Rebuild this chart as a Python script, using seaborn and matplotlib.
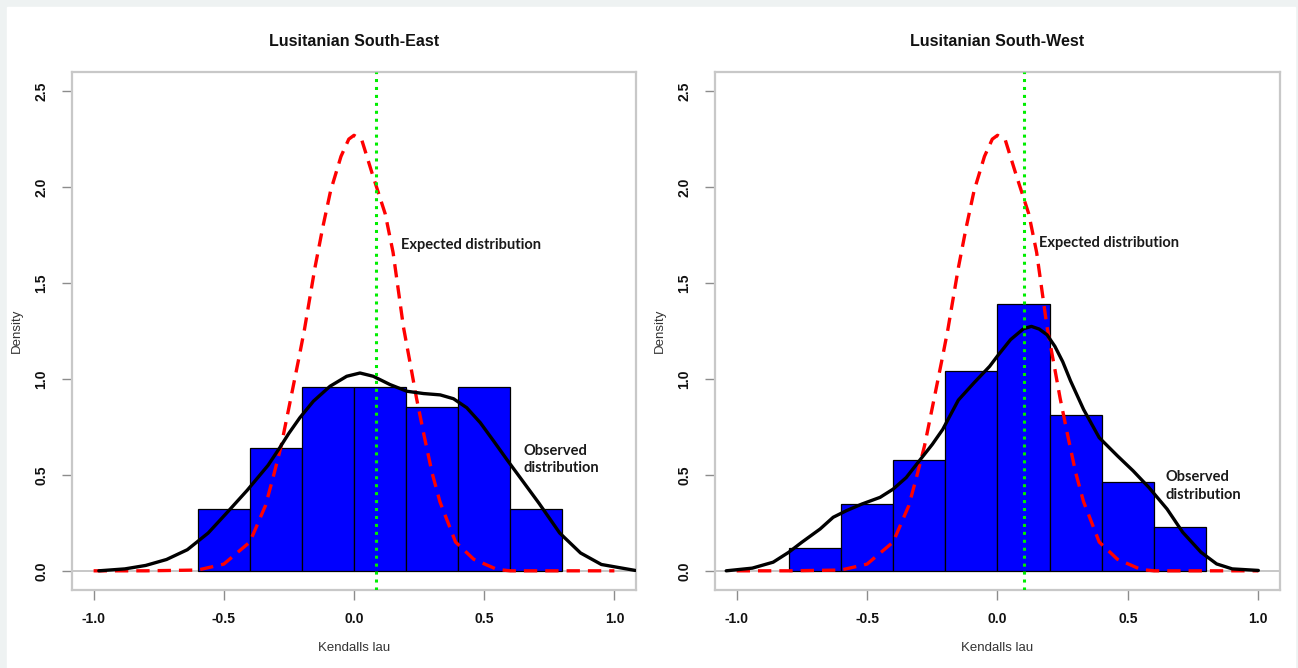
import numpy as np
import matplotlib
matplotlib.use("Agg")
import matplotlib.pyplot as plt
from matplotlib.patches import Rectangle
import seaborn as sns

# panel titles
titles = ["Lusitanian South-East", "Lusitanian South-West"]

# histogram bins and densities
edges_se = [-0.6, -0.4, -0.2, 0.0, 0.2, 0.4, 0.6, 0.8]
dens_se = [0.32, 0.64, 0.96, 0.96, 0.855, 0.96, 0.32]
edges_sw = [-0.8, -0.6, -0.4, -0.2, 0.0, 0.2, 0.4, 0.6, 0.8]
dens_sw = [0.12, 0.35, 0.58, 1.04, 1.39, 0.81, 0.465, 0.23]

# observed density curves (black)
obs_se_x = [-0.98, -0.88, -0.80, -0.72, -0.64, -0.56, -0.49, -0.41, -0.33, -0.285,
            -0.25, -0.208, -0.156, -0.092, -0.028, 0.023, 0.074, 0.138, 0.203, 0.267,
            0.331, 0.382, 0.433, 0.485, 0.536, 0.587, 0.638, 0.71, 0.79, 0.87,
            0.95, 1.08]
obs_se_y = [0.0, 0.01, 0.028, 0.059, 0.11, 0.197, 0.30, 0.42, 0.55, 0.642,
            0.717, 0.798, 0.884, 0.962, 1.014, 1.031, 1.014, 0.971, 0.936, 0.924,
            0.917, 0.897, 0.85, 0.772, 0.677, 0.58, 0.486, 0.353, 0.197, 0.093,
            0.033, 0.002]
obs_sw_x = [-1.04, -0.94, -0.86, -0.80, -0.75, -0.68, -0.63, -0.58, -0.52, -0.45,
            -0.40, -0.35, -0.30, -0.25, -0.21, -0.15, -0.09, -0.03, 0.0, 0.05,
            0.10, 0.13, 0.16, 0.19, 0.22, 0.25, 0.28, 0.33, 0.39, 0.46,
            0.52, 0.58, 0.65, 0.71, 0.78, 0.84, 0.90, 1.0]
obs_sw_y = [0.0, 0.014, 0.045, 0.097, 0.149, 0.218, 0.279, 0.313, 0.348, 0.383,
            0.426, 0.486, 0.573, 0.659, 0.737, 0.89, 0.98, 1.066, 1.12, 1.205,
            1.262, 1.274, 1.26, 1.23, 1.17, 1.09, 0.99, 0.841, 0.694, 0.599,
            0.521, 0.435, 0.322, 0.201, 0.097, 0.036, 0.01, 0.002]

# expected (null) density curve (red dashed), same in both panels
exp_x = [-1.0, -0.8, -0.6, -0.5, -0.4, -0.34, -0.31, -0.28, -0.25, -0.21,
         -0.19, -0.15, -0.12, -0.09, -0.05, -0.02, 0.0, 0.03, 0.07, 0.12,
         0.15, 0.19, 0.22, 0.24, 0.27, 0.30, 0.33, 0.39, 0.46, 0.55,
         0.6, 0.8, 1.0]
exp_y = [0.0, 0.0, 0.004, 0.035, 0.15, 0.34, 0.49, 0.65, 0.85, 1.12,
         1.26, 1.58, 1.79, 1.98, 2.16, 2.25, 2.27, 2.245, 2.07, 1.86,
         1.66, 1.27, 1.05, 0.90, 0.70, 0.51, 0.36, 0.15, 0.06, 0.007,
         0.0, 0.0, 0.0]

# observed mean tau (green dotted)
obs_tau = [0.085, 0.1]

# label positions for annotations (data coords)
exp_lab = [(0.18, 1.70), (0.16, 1.71)]
obs_lab = [(0.65, 0.58), (0.645, 0.44)]

sns.set_style("white")
plt.rcParams["font.family"] = ["Liberation Sans", "DejaVu Sans"]

W, H = 1298, 668
fig = plt.figure(figsize=(W / 100, H / 100), dpi=100, facecolor="#eef2f2")
fig.patches.append(Rectangle((7 / W, 0), (1295 - 7) / W, (H - 7) / H,
                             transform=fig.transFigure, color="white", zorder=-10))

axes = [fig.add_axes([72 / W, 1 - 590 / H, 564 / W, 518 / H]),
        fig.add_axes([715 / W, 1 - 590 / H, 565 / W, 518 / H])]

panels = [(edges_se, dens_se, obs_se_x, obs_se_y),
          (edges_sw, dens_sw, obs_sw_x, obs_sw_y)]

for i, ax in enumerate(axes):
    edges, dens, ox, oy = panels[i]
    ax.set_facecolor("white")
    centers = [(a + b) / 2 for a, b in zip(edges[:-1], edges[1:])]
    ax.axhline(0, color="#bdbdbd", lw=1.2, zorder=1)
    sns.histplot(x=centers, weights=dens, bins=edges, stat="count",
                 color="#0000ff", alpha=1, edgecolor="black", linewidth=0.9,
                 ax=ax, zorder=2)
    sns.lineplot(x=exp_x, y=exp_y, ax=ax, color="#ff0000", lw=2.4,
                 linestyle=(0, (4, 2.4)), sort=False, zorder=3)
    sns.lineplot(x=ox, y=oy, ax=ax, color="black", lw=2.4, sort=False, zorder=4)
    ax.axvline(obs_tau[i], color="#00ee00", lw=2.2, linestyle=(0, (1, 1.6)), zorder=5)

    ax.set_xlim(-1.083, 1.083)
    ax.set_ylim(-0.1, 2.6)
    ax.set_xticks([-1.0, -0.5, 0.0, 0.5, 1.0])
    ax.set_xticklabels(["-1.0", "-0.5", "0.0", "0.5", "1.0"], fontweight="bold", fontsize=10)
    ax.set_yticks([0.0, 0.5, 1.0, 1.5, 2.0, 2.5])
    ax.set_yticklabels(["0.0", "0.5", "1.0", "1.5", "2.0", "2.5"], fontweight="bold",
                       fontsize=10, rotation=90, va="center")
    ax.tick_params(axis="both", direction="out", length=7, width=1, color="#8c8c8c",
                   labelcolor="#111111", left=True, bottom=True)
    ax.tick_params(axis="x", pad=9)
    ax.tick_params(axis="y", pad=10)
    for s in ax.spines.values():
        s.set_color("#c8c8c8")
        s.set_linewidth(1.6)

    ax.set_title(titles[i], fontweight="bold", fontsize=11.5, pad=19, color="#111111")
    ax.set_xlabel("Kendalls lau", fontsize=9.5, color="#333333")
    ax.set_ylabel("Density", fontsize=9.5, color="#333333")
    ax.xaxis.set_label_coords(0.5, -0.112)
    ax.xaxis.label.set_va("center")
    ax.yaxis.set_label_coords(-0.097, 0.5)
    ax.yaxis.label.set_va("center")

    ax.text(exp_lab[i][0], exp_lab[i][1], "Expected distribution", va="center",
            ha="left", fontsize=10.5, fontweight="bold", family=["Lato", "DejaVu Sans"],
            color="#1a1a1a", zorder=6)
    ax.text(obs_lab[i][0], obs_lab[i][1], "Observed\ndistribution", va="center",
            ha="left", fontsize=10.5, fontweight="bold", family=["Lato", "DejaVu Sans"],
            color="#1a1a1a", linespacing=1.35, zorder=6)

fig.savefig("out.png", dpi=100, facecolor=fig.get_facecolor())
